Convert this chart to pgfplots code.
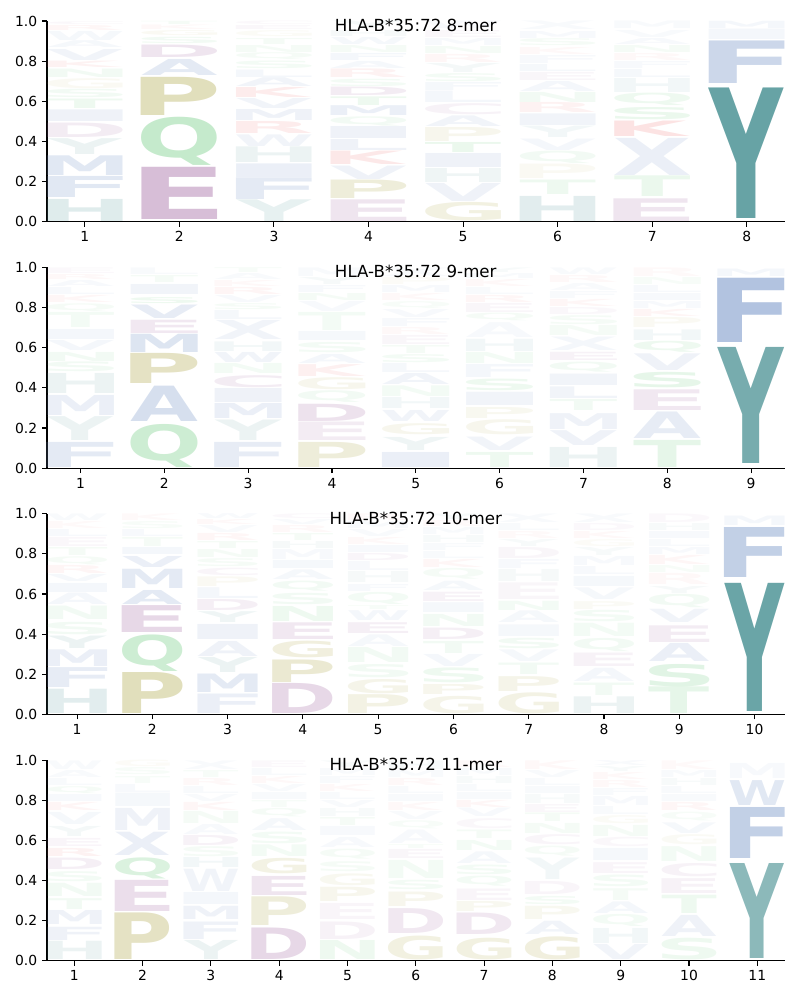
\documentclass[border=0pt]{standalone}
\usepackage{fontspec}
\setmainfont{DejaVu Sans}
\usepackage{graphicx}
\usepackage{pgfplots}
\pgfplotsset{compat=1.18}
\XeTeXuseglyphmetrics=1

% letter colours (drawn with opacity over white)
\definecolor{cY}{RGB}{95,158,160}
\definecolor{cH}{RGB}{95,158,160}
\definecolor{cA}{RGB}{120,150,200}
\definecolor{cF}{RGB}{120,150,200}
\definecolor{cI}{RGB}{120,150,200}
\definecolor{cL}{RGB}{120,150,200}
\definecolor{cM}{RGB}{120,150,200}
\definecolor{cV}{RGB}{120,150,200}
\definecolor{cW}{RGB}{120,150,200}
\definecolor{cX}{RGB}{120,150,200}
\definecolor{cC}{RGB}{175,125,175}
\definecolor{cD}{RGB}{175,125,175}
\definecolor{cE}{RGB}{175,125,175}
\definecolor{cG}{RGB}{189,183,107}
\definecolor{cP}{RGB}{189,183,107}
\definecolor{cN}{RGB}{90,195,110}
\definecolor{cQ}{RGB}{90,195,110}
\definecolor{cS}{RGB}{90,195,110}
\definecolor{cT}{RGB}{90,195,110}
\definecolor{cK}{RGB}{240,128,128}
\definecolor{cR}{RGB}{240,128,128}

\newlength\ylen
\setlength\ylen{144.7pt}

% a letter stretched so that its ink fills width x height
\newcommand\logoletter[3]{%
  \begingroup\bfseries
  \setbox0\hbox{#1}%
  \dimen2=\XeTeXglyphbounds1 \XeTeXcharglyph\expandafter`#1\relax
  \dimen4=\XeTeXglyphbounds3 \XeTeXcharglyph\expandafter`#1\relax
  \resizebox*{#2}{#3}{\kern-\dimen2\box0\kern-\dimen4}%
  \endgroup}

\pgfplotsset{
  logo/.style={
    width=531.4pt, height=144.7pt, scale only axis,
    ymin=0, ymax=1, xmin=0.6, xmax=#1+0.4,
    axis x line*=bottom, axis y line*=left,
    axis line style={-, line width=0.8pt},
    xtick={1,...,#1}, ytick={0,0.2,0.4,0.6,0.8,1.0},
    yticklabel style={/pgf/number format/.cd, fixed, fixed zerofill, precision=1},
    tick align=outside, major tick length=3.5pt,
    tick style={black, line width=0.8pt},
    ticklabel style={font=\fontsize{10}{12}\selectfont},
    /pgf/number format/assume math mode=true,
    title style={at={(0.5,1)}, anchor=north, yshift=-1pt,
      font=\fontsize{12}{14}\selectfont},
    clip=false,
  },
  letters/.style={
    draw=none, mark=none,
    visualization depends on={value \thisrow{b}\as\lbot},
    visualization depends on={value \thisrow{t}\as\ltop},
    visualization depends on={value \thisrow{L}\as\lch},
    visualization depends on={value \thisrow{a}\as\lalpha},
    nodes near coords={\logoletter{\lch}{\lw}{\dimexpr\ltop\ylen-\lbot\ylen\relax}},
    every node near coord/.append style={anchor=south, inner sep=0pt,
      outer sep=0pt, text=c\lch, text opacity=\lalpha},
  },
}

\begin{document}
\begin{tikzpicture}
\useasboundingbox (-33.84pt,-560.6pt) rectangle (542.2pt,159.8pt);

% ---------------- 8-mer ----------------
\def\lw{54.5pt}
\begin{axis}[logo=8, at={(0,0)}, title={HLA-B*35:72 8-mer}]
\addplot[letters] table[x=x, y=b] {
x b t L a
1 0.000 0.110 H 0.20
1 0.120 0.225 F 0.22
1 0.232 0.330 M 0.22
1 0.336 0.415 Y 0.12
1 0.420 0.492 D 0.15
1 0.500 0.558 I 0.12
1 0.565 0.612 T 0.10
1 0.618 0.660 S 0.08
1 0.665 0.715 G 0.08
1 0.720 0.762 N 0.08
1 0.768 0.800 K 0.10
1 0.805 0.860 V 0.10
1 0.866 0.900 A 0.07
1 0.905 0.950 W 0.07
1 0.955 0.980 R 0.07
1 0.984 0.998 C 0.06
2 0.010 0.270 E 0.50
2 0.280 0.520 Q 0.35
2 0.530 0.720 P 0.45
2 0.730 0.810 A 0.20
2 0.818 0.880 D 0.20
2 0.888 0.920 S 0.08
2 0.925 0.950 G 0.08
2 0.955 0.978 K 0.06
2 0.982 0.998 T 0.06
3 0.000 0.108 Y 0.15
3 0.111 0.219 F 0.20
3 0.222 0.290 I 0.15
3 0.294 0.372 H 0.12
3 0.377 0.435 W 0.10
3 0.440 0.500 R 0.15
3 0.505 0.560 M 0.12
3 0.563 0.613 V 0.10
3 0.618 0.668 K 0.15
3 0.673 0.717 A 0.10
3 0.720 0.757 L 0.08
3 0.762 0.800 S 0.07
3 0.805 0.840 Q 0.06
3 0.845 0.880 N 0.06
3 0.885 0.915 T 0.06
3 0.920 0.950 G 0.06
3 0.955 0.975 E 0.06
3 0.980 0.998 C 0.05
4 0.000 0.108 E 0.20
4 0.115 0.207 P 0.25
4 0.213 0.280 V 0.12
4 0.285 0.352 K 0.18
4 0.355 0.410 L 0.12
4 0.413 0.473 I 0.12
4 0.477 0.523 Q 0.08
4 0.527 0.576 M 0.15
4 0.580 0.623 T 0.10
4 0.628 0.670 D 0.15
4 0.675 0.712 S 0.07
4 0.717 0.760 R 0.10
4 0.765 0.800 A 0.07
4 0.805 0.840 F 0.08
4 0.845 0.880 N 0.06
4 0.885 0.920 W 0.07
4 0.925 0.955 H 0.06
4 0.960 0.998 Y 0.06
5 0.003 0.095 G 0.20
5 0.100 0.190 V 0.12
5 0.194 0.264 H 0.10
5 0.270 0.340 I 0.12
5 0.347 0.397 T 0.12
5 0.400 0.470 P 0.12
5 0.477 0.530 A 0.10
5 0.535 0.590 C 0.10
5 0.593 0.650 L 0.08
5 0.655 0.695 F 0.07
5 0.700 0.740 S 0.07
5 0.745 0.790 Y 0.07
5 0.795 0.835 R 0.07
5 0.840 0.875 N 0.06
5 0.880 0.915 M 0.06
5 0.920 0.955 E 0.06
5 0.960 0.998 W 0.05
6 0.003 0.128 H 0.18
6 0.136 0.208 T 0.10
6 0.214 0.286 P 0.08
6 0.290 0.352 Q 0.08
6 0.357 0.414 V 0.08
6 0.420 0.477 Y 0.08
6 0.482 0.540 I 0.10
6 0.543 0.593 R 0.10
6 0.596 0.646 N 0.08
6 0.650 0.700 A 0.08
6 0.705 0.745 E 0.07
6 0.750 0.785 L 0.07
6 0.790 0.830 F 0.06
6 0.835 0.870 K 0.06
6 0.875 0.910 S 0.06
6 0.915 0.950 M 0.06
6 0.955 0.998 X 0.05
7 0.003 0.116 E 0.20
7 0.125 0.228 T 0.12
7 0.233 0.418 X 0.15
7 0.423 0.500 K 0.22
7 0.507 0.568 S 0.12
7 0.578 0.640 Q 0.10
7 0.645 0.715 H 0.08
7 0.720 0.760 L 0.07
7 0.765 0.800 F 0.06
7 0.805 0.840 R 0.06
7 0.845 0.880 N 0.06
7 0.885 0.915 A 0.06
7 0.920 0.955 V 0.05
7 0.960 0.998 M 0.05
8 0.015 0.665 Y 0.95
8 0.690 0.902 F 0.38
8 0.906 0.958 I 0.08
8 0.962 0.998 M 0.08
};
\end{axis}

% ---------------- 9-mer ----------------
\def\lw{48.3pt}
\begin{axis}[logo=9, at={(0,-177.48pt)}, title={HLA-B*35:72 9-mer}]
\addplot[letters] table[x=x, y=b] {
x b t L a
1 0.005 0.130 F 0.20
1 0.138 0.257 Y 0.12
1 0.262 0.362 M 0.15
1 0.370 0.470 H 0.12
1 0.478 0.527 S 0.08
1 0.532 0.577 N 0.08
1 0.585 0.635 V 0.08
1 0.640 0.690 I 0.08
1 0.700 0.775 T 0.07
1 0.780 0.820 Q 0.06
1 0.825 0.860 K 0.07
1 0.865 0.900 L 0.06
1 0.905 0.935 A 0.06
1 0.940 0.965 R 0.06
1 0.970 0.998 E 0.05
2 0.005 0.220 Q 0.30
2 0.234 0.410 A 0.30
2 0.420 0.570 P 0.40
2 0.577 0.668 M 0.25
2 0.672 0.738 E 0.18
2 0.743 0.810 V 0.18
2 0.820 0.850 S 0.10
2 0.867 0.917 I 0.10
2 0.925 0.960 T 0.06
2 0.965 0.998 L 0.05
3 0.005 0.130 F 0.18
3 0.138 0.240 Y 0.12
3 0.245 0.320 M 0.15
3 0.325 0.395 I 0.12
3 0.400 0.460 C 0.15
3 0.470 0.520 N 0.07
3 0.527 0.577 W 0.10
3 0.582 0.630 H 0.08
3 0.640 0.735 X 0.10
3 0.740 0.785 L 0.07
3 0.790 0.820 S 0.06
3 0.825 0.860 V 0.06
3 0.865 0.900 R 0.08
3 0.905 0.935 K 0.06
3 0.940 0.970 A 0.05
3 0.974 0.998 T 0.05
4 0.005 0.130 P 0.25
4 0.138 0.230 E 0.15
4 0.234 0.320 D 0.22
4 0.325 0.383 Q 0.08
4 0.390 0.450 G 0.12
4 0.456 0.515 K 0.12
4 0.520 0.565 A 0.08
4 0.577 0.628 S 0.07
4 0.635 0.680 I 0.07
4 0.685 0.775 T 0.07
4 0.780 0.830 V 0.06
4 0.835 0.870 N 0.06
4 0.875 0.910 F 0.06
4 0.915 0.950 Y 0.06
4 0.955 0.998 M 0.05
5 0.005 0.080 I 0.15
5 0.090 0.155 Y 0.10
5 0.165 0.220 G 0.12
5 0.230 0.285 W 0.10
5 0.295 0.350 H 0.08
5 0.357 0.410 N 0.07
5 0.415 0.470 A 0.10
5 0.475 0.520 L 0.07
5 0.525 0.565 S 0.07
5 0.570 0.610 T 0.06
5 0.615 0.660 E 0.07
5 0.665 0.700 R 0.06
5 0.705 0.745 F 0.06
5 0.750 0.790 V 0.06
5 0.795 0.830 Q 0.05
5 0.835 0.870 K 0.06
5 0.875 0.910 M 0.06
5 0.915 0.950 P 0.05
5 0.955 0.998 X 0.05
6 0.005 0.080 T 0.10
6 0.088 0.155 V 0.10
6 0.165 0.240 G 0.12
6 0.245 0.300 P 0.10
6 0.312 0.378 I 0.10
6 0.387 0.445 S 0.10
6 0.450 0.515 F 0.08
6 0.522 0.577 N 0.07
6 0.582 0.643 H 0.08
6 0.652 0.726 A 0.06
6 0.732 0.770 Q 0.06
6 0.775 0.820 E 0.07
6 0.825 0.860 R 0.07
6 0.865 0.900 L 0.05
6 0.905 0.940 K 0.06
6 0.945 0.970 M 0.05
6 0.975 0.998 Y 0.05
7 0.005 0.105 H 0.12
7 0.113 0.187 V 0.12
7 0.195 0.274 M 0.12
7 0.285 0.340 T 0.08
7 0.345 0.403 L 0.10
7 0.410 0.467 I 0.10
7 0.478 0.528 Q 0.08
7 0.535 0.576 E 0.10
7 0.585 0.652 X 0.08
7 0.660 0.710 N 0.06
7 0.715 0.760 S 0.06
7 0.765 0.800 D 0.06
7 0.805 0.840 K 0.07
7 0.845 0.880 F 0.05
7 0.885 0.920 A 0.05
7 0.925 0.960 R 0.06
7 0.965 0.998 W 0.05
8 0.005 0.140 T 0.15
8 0.146 0.278 A 0.18
8 0.287 0.390 E 0.18
8 0.400 0.477 S 0.15
8 0.485 0.568 V 0.12
8 0.577 0.632 Q 0.10
8 0.635 0.688 H 0.08
8 0.700 0.750 P 0.08
8 0.755 0.790 K 0.08
8 0.795 0.830 M 0.06
8 0.835 0.870 I 0.06
8 0.875 0.910 L 0.06
8 0.915 0.950 N 0.05
8 0.955 0.998 R 0.05
9 0.022 0.600 Y 0.85
9 0.627 0.947 F 0.57
9 0.953 0.990 M 0.08
};
\end{axis}

% ---------------- 10-mer ----------------
\def\lw{43.4pt}
\begin{axis}[logo=10, at={(0,-354.96pt)}, title={HLA-B*35:72 10-mer}]
\addplot[letters] table[x=x, y=b] {
x b t L a
1 0.003 0.124 H 0.18
1 0.133 0.232 F 0.18
1 0.240 0.323 M 0.15
1 0.328 0.390 Y 0.12
1 0.398 0.460 S 0.08
1 0.473 0.540 N 0.08
1 0.548 0.605 A 0.08
1 0.610 0.655 I 0.08
1 0.660 0.695 V 0.07
1 0.700 0.740 R 0.08
1 0.745 0.785 Q 0.06
1 0.790 0.830 T 0.06
1 0.835 0.880 E 0.06
1 0.885 0.920 L 0.06
1 0.925 0.960 K 0.05
1 0.965 0.998 W 0.05
2 0.003 0.207 P 0.45
2 0.216 0.398 Q 0.30
2 0.410 0.544 E 0.30
2 0.550 0.620 A 0.20
2 0.630 0.726 M 0.20
2 0.733 0.788 V 0.15
2 0.795 0.830 I 0.08
2 0.835 0.880 T 0.06
2 0.885 0.920 L 0.06
2 0.925 0.960 S 0.05
2 0.965 0.998 K 0.05
3 0.003 0.100 F 0.15
3 0.108 0.200 M 0.20
3 0.207 0.282 Y 0.12
3 0.290 0.365 A 0.12
3 0.373 0.448 I 0.12
3 0.456 0.510 Y 0.10
3 0.517 0.572 D 0.12
3 0.580 0.634 L 0.08
3 0.640 0.688 P 0.08
3 0.693 0.730 C 0.08
3 0.735 0.775 S 0.06
3 0.780 0.820 N 0.06
3 0.825 0.860 T 0.06
3 0.865 0.900 R 0.07
3 0.905 0.940 V 0.05
3 0.945 0.970 K 0.06
3 0.974 0.998 W 0.05
4 0.003 0.153 D 0.30
4 0.162 0.274 P 0.30
4 0.282 0.365 G 0.22
4 0.373 0.456 E 0.18
4 0.465 0.540 N 0.10
4 0.548 0.605 S 0.08
4 0.613 0.663 Q 0.08
4 0.672 0.720 A 0.07
4 0.725 0.765 I 0.07
4 0.770 0.820 M 0.06
4 0.825 0.860 H 0.06
4 0.865 0.900 T 0.06
4 0.905 0.940 R 0.06
4 0.945 0.970 V 0.05
4 0.974 0.998 C 0.05
5 0.003 0.097 P 0.18
5 0.103 0.174 G 0.15
5 0.182 0.248 S 0.08
5 0.257 0.332 N 0.08
5 0.340 0.398 A 0.07
5 0.406 0.460 E 0.12
5 0.468 0.517 W 0.08
5 0.525 0.545 T 0.05
5 0.550 0.610 Q 0.07
5 0.615 0.650 F 0.06
5 0.655 0.710 H 0.06
5 0.715 0.760 L 0.06
5 0.765 0.800 D 0.08
5 0.805 0.840 I 0.06
5 0.845 0.880 K 0.06
5 0.885 0.920 V 0.05
5 0.925 0.960 M 0.05
5 0.965 0.998 R 0.05
6 0.003 0.090 G 0.15
6 0.100 0.150 P 0.12
6 0.158 0.232 S 0.10
6 0.240 0.300 V 0.08
6 0.305 0.365 T 0.08
6 0.373 0.430 D 0.12
6 0.440 0.500 N 0.08
6 0.507 0.556 I 0.07
6 0.564 0.610 E 0.10
6 0.617 0.663 A 0.07
6 0.672 0.726 Q 0.06
6 0.730 0.770 K 0.07
6 0.775 0.810 L 0.05
6 0.815 0.850 F 0.05
6 0.855 0.890 H 0.05
6 0.895 0.930 M 0.05
6 0.935 0.965 R 0.05
6 0.970 0.998 Y 0.05
7 0.003 0.108 G 0.18
7 0.116 0.190 P 0.15
7 0.200 0.257 T 0.08
7 0.265 0.323 V 0.07
7 0.330 0.382 S 0.08
7 0.390 0.448 I 0.07
7 0.456 0.514 A 0.07
7 0.520 0.566 N 0.07
7 0.572 0.655 E 0.07
7 0.660 0.720 H 0.06
7 0.725 0.770 F 0.06
7 0.775 0.830 D 0.07
7 0.835 0.870 Y 0.05
7 0.875 0.910 R 0.05
7 0.915 0.950 L 0.05
7 0.955 0.998 X 0.05
8 0.003 0.086 H 0.12
8 0.096 0.158 T 0.08
8 0.166 0.232 A 0.08
8 0.240 0.307 E 0.10
8 0.315 0.381 Q 0.08
8 0.390 0.456 N 0.07
8 0.460 0.517 S 0.07
8 0.525 0.564 P 0.07
8 0.572 0.630 V 0.07
8 0.640 0.690 I 0.07
8 0.695 0.735 L 0.06
8 0.740 0.785 M 0.06
8 0.790 0.830 Y 0.05
8 0.835 0.870 G 0.05
8 0.875 0.910 K 0.06
8 0.915 0.950 D 0.05
8 0.955 0.998 X 0.05
9 0.003 0.136 T 0.15
9 0.140 0.252 S 0.18
9 0.262 0.352 A 0.15
9 0.360 0.443 E 0.15
9 0.456 0.522 V 0.10
9 0.530 0.597 Q 0.08
9 0.605 0.640 Y 0.06
9 0.645 0.700 R 0.06
9 0.705 0.740 N 0.05
9 0.745 0.790 K 0.07
9 0.795 0.830 M 0.06
9 0.835 0.870 L 0.05
9 0.875 0.910 I 0.06
9 0.915 0.950 H 0.05
9 0.955 0.998 D 0.05
10 0.017 0.655 Y 0.93
10 0.683 0.932 F 0.45
10 0.940 0.987 M 0.08
};
\end{axis}

% ---------------- 11-mer ----------------
\def\lw{39.4pt}
\begin{axis}[logo=11, at={(0,-532.44pt)}, title={HLA-B*35:72 11-mer}]
\addplot[letters] table[x=x, y=b] {
x b t L a
1 0.005 0.096 H 0.12
1 0.104 0.170 F 0.12
1 0.180 0.250 M 0.12
1 0.258 0.312 T 0.08
1 0.320 0.386 N 0.08
1 0.395 0.445 S 0.07
1 0.453 0.510 D 0.12
1 0.520 0.560 R 0.10
1 0.570 0.610 E 0.08
1 0.620 0.670 Y 0.07
1 0.680 0.740 V 0.07
1 0.750 0.790 K 0.08
1 0.795 0.830 I 0.06
1 0.835 0.870 Q 0.06
1 0.875 0.910 L 0.05
1 0.915 0.950 A 0.05
1 0.955 0.998 W 0.05
2 0.005 0.237 P 0.40
2 0.245 0.400 E 0.25
2 0.410 0.515 Q 0.22
2 0.527 0.643 X 0.15
2 0.650 0.760 M 0.12
2 0.767 0.834 I 0.07
2 0.840 0.880 L 0.06
2 0.885 0.920 T 0.05
2 0.925 0.960 S 0.05
2 0.965 0.998 G 0.05
3 0.005 0.100 Y 0.12
3 0.108 0.195 F 0.12
3 0.204 0.270 M 0.12
3 0.280 0.340 I 0.08
3 0.345 0.456 W 0.10
3 0.466 0.516 H 0.08
3 0.520 0.570 S 0.06
3 0.575 0.625 D 0.10
3 0.630 0.680 A 0.06
3 0.685 0.745 N 0.06
3 0.750 0.790 K 0.07
3 0.795 0.830 V 0.05
3 0.835 0.870 L 0.05
3 0.875 0.910 R 0.06
3 0.915 0.950 T 0.05
3 0.955 0.998 X 0.05
4 0.005 0.162 D 0.30
4 0.174 0.317 P 0.25
4 0.328 0.423 E 0.20
4 0.433 0.510 G 0.18
4 0.519 0.577 N 0.07
4 0.585 0.643 S 0.07
4 0.651 0.710 A 0.07
4 0.718 0.760 Q 0.06
4 0.765 0.800 T 0.05
4 0.805 0.840 I 0.05
4 0.845 0.880 V 0.05
4 0.885 0.920 K 0.06
4 0.925 0.960 L 0.05
4 0.965 0.998 E 0.05
5 0.005 0.100 N 0.10
5 0.108 0.195 D 0.10
5 0.205 0.285 E 0.08
5 0.295 0.366 P 0.12
5 0.373 0.432 G 0.10
5 0.444 0.494 S 0.06
5 0.505 0.555 Q 0.06
5 0.565 0.615 A 0.06
5 0.625 0.670 I 0.06
5 0.675 0.715 T 0.06
5 0.720 0.760 H 0.05
5 0.765 0.800 V 0.05
5 0.805 0.840 L 0.05
5 0.845 0.880 K 0.06
5 0.885 0.920 F 0.05
5 0.925 0.960 M 0.05
5 0.965 0.998 Y 0.05
6 0.005 0.124 G 0.20
6 0.138 0.262 D 0.18
6 0.273 0.345 P 0.12
6 0.353 0.400 S 0.07
6 0.410 0.500 N 0.07
6 0.510 0.555 E 0.07
6 0.560 0.580 T 0.05
6 0.585 0.652 A 0.06
6 0.660 0.700 Q 0.05
6 0.705 0.745 V 0.05
6 0.750 0.790 K 0.06
6 0.795 0.830 I 0.05
6 0.835 0.870 L 0.05
6 0.875 0.910 R 0.06
6 0.915 0.950 M 0.05
6 0.955 0.998 H 0.05
7 0.005 0.113 G 0.20
7 0.130 0.237 D 0.18
7 0.245 0.295 P 0.10
7 0.303 0.360 E 0.08
7 0.370 0.420 Q 0.07
7 0.430 0.478 S 0.07
7 0.486 0.544 A 0.07
7 0.552 0.602 N 0.07
7 0.610 0.652 T 0.06
7 0.660 0.710 C 0.06
7 0.718 0.760 V 0.06
7 0.765 0.800 K 0.07
7 0.805 0.840 I 0.05
7 0.845 0.880 L 0.05
7 0.885 0.920 H 0.05
7 0.925 0.960 M 0.05
7 0.965 0.998 R 0.05
8 0.005 0.120 G 0.22
8 0.130 0.196 A 0.10
8 0.204 0.270 P 0.10
8 0.279 0.320 S 0.07
8 0.330 0.395 D 0.08
8 0.403 0.510 Y 0.08
8 0.520 0.570 Q 0.06
8 0.577 0.627 C 0.08
8 0.635 0.685 N 0.06
8 0.692 0.735 T 0.06
8 0.740 0.780 E 0.06
8 0.785 0.830 H 0.05
8 0.835 0.870 I 0.05
8 0.875 0.910 L 0.05
8 0.915 0.950 V 0.05
8 0.955 0.998 K 0.06
9 0.005 0.080 V 0.10
9 0.088 0.163 H 0.08
9 0.170 0.230 Q 0.07
9 0.237 0.295 A 0.08
9 0.303 0.362 T 0.06
9 0.370 0.428 S 0.07
9 0.436 0.490 E 0.08
9 0.500 0.560 I 0.07
9 0.568 0.615 C 0.06
9 0.620 0.675 N 0.06
9 0.685 0.725 G 0.06
9 0.730 0.770 L 0.05
9 0.775 0.820 M 0.06
9 0.825 0.860 F 0.05
9 0.865 0.900 R 0.06
9 0.905 0.940 K 0.06
9 0.945 0.970 Y 0.05
9 0.974 0.998 X 0.05
10 0.005 0.113 S 0.10
10 0.124 0.229 A 0.12
10 0.237 0.328 T 0.10
10 0.337 0.411 E 0.10
10 0.420 0.486 C 0.10
10 0.494 0.568 N 0.07
10 0.577 0.627 G 0.07
10 0.635 0.688 V 0.07
10 0.698 0.742 Q 0.05
10 0.750 0.790 R 0.07
10 0.795 0.830 I 0.05
10 0.835 0.870 L 0.05
10 0.875 0.910 H 0.05
10 0.915 0.950 M 0.05
10 0.955 0.998 K 0.05
11 0.013 0.486 Y 0.72
11 0.511 0.765 F 0.45
11 0.776 0.900 W 0.22
11 0.908 0.983 M 0.06
};
\end{axis}
\end{tikzpicture}
\end{document}
